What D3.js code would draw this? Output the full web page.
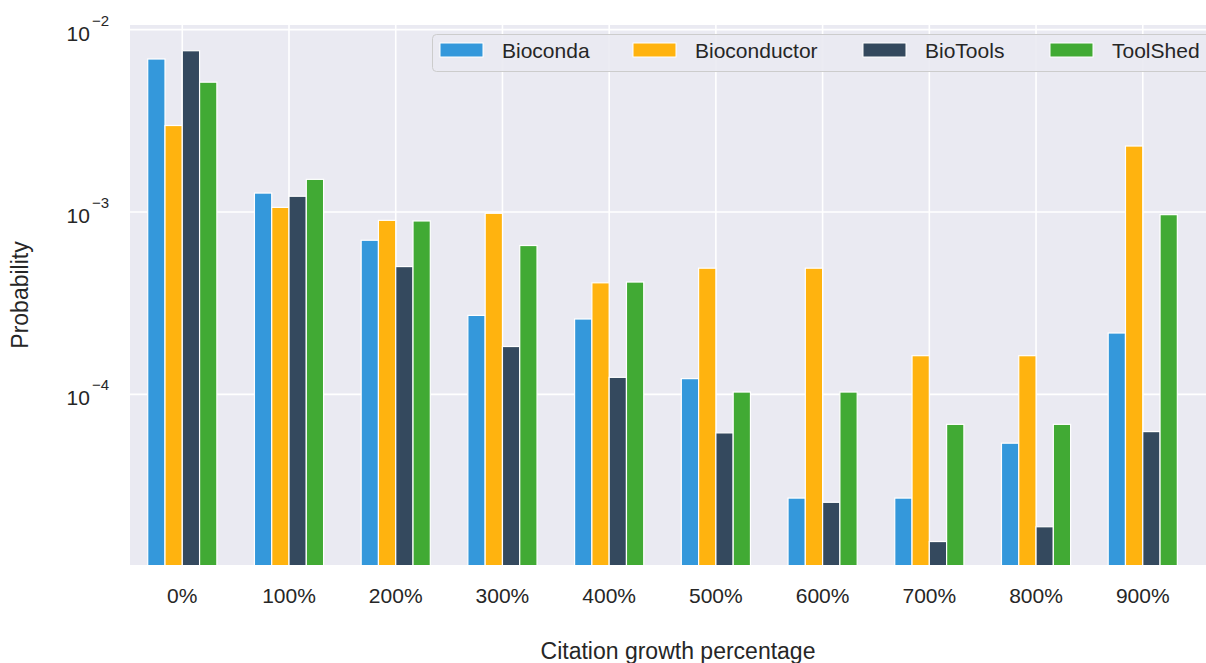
<!DOCTYPE html>
<html>
<head>
<meta charset="utf-8">
<script src="https://cdn.jsdelivr.net/npm/d3@7"></script>
<style>
  html, body { margin: 0; padding: 0; background: #ffffff; overflow: hidden; }
  svg { display: block; font-family: "Liberation Sans", Arial, Helvetica, sans-serif; }
</style>
</head>
<body>
<svg id="chart" width="1206" height="663"></svg>
<script>
// Citation growth buckets and the probability of each per registry
const categories = ["0%", "100%", "200%", "300%", "400%", "500%", "600%", "700%", "800%", "900%"];
const seriesNames = ["Bioconda", "Bioconductor", "BioTools", "ToolShed"];
const seriesColors = ["#3498db", "#ffb30f", "#34495e", "#41aa34"];

const bioconda     = [6.9e-3, 1.27e-3, 7.0e-4, 2.71e-4, 2.59e-4, 1.22e-4, 2.70e-5, 2.70e-5, 5.4e-5, 2.17e-4];
const bioconductor = [2.98e-3, 1.06e-3, 9.0e-4, 9.84e-4, 4.09e-4, 4.92e-4, 4.92e-4, 1.63e-4, 1.63e-4, 2.30e-3];
const biotools     = [7.66e-3, 1.22e-3, 5.02e-4, 1.83e-4, 1.24e-4, 6.15e-5, 2.56e-5, 1.56e-5, 1.88e-5, 6.25e-5];
const toolshed     = [5.15e-3, 1.51e-3, 8.93e-4, 6.55e-4, 4.13e-4, 1.03e-4, 1.03e-4, 6.85e-5, 6.85e-5, 9.67e-4];

const yTicks = [1e-4, 1e-3, 1e-2];
const yTickExponents = ["−4", "−3", "−2"];

const series = [bioconda, bioconductor, biotools, toolshed];

const svg = d3.select("#chart");
const plot = { left: 130, right: 1226, top: 25, bottom: 565 };

// x: category index, y: log probability
const x = d3.scaleLinear().domain([-0.49, 9.78]).range([plot.left, plot.right]);
const y = d3.scaleLog().domain([1.16e-5, 1.06e-2]).range([plot.bottom, plot.top]);
const step = x(1) - x(0);
const barW = 0.162 * step;

// axes background
svg.append("rect")
  .attr("x", plot.left).attr("y", plot.top)
  .attr("width", plot.right - plot.left).attr("height", plot.bottom - plot.top)
  .attr("fill", "#eaeaf2");

svg.append("clipPath").attr("id", "plotClip")
  .append("rect")
  .attr("x", plot.left).attr("y", plot.top)
  .attr("width", plot.right - plot.left).attr("height", plot.bottom - plot.top);

const grid = svg.append("g").attr("clip-path", "url(#plotClip)");
grid.selectAll("line.h").data(yTicks).join("line")
  .attr("x1", plot.left).attr("x2", plot.right)
  .attr("y1", d => y(d)).attr("y2", d => y(d))
  .attr("stroke", "#ffffff").attr("stroke-width", 1.6);
grid.selectAll("line.v").data(categories).join("line")
  .attr("x1", (d, i) => x(i)).attr("x2", (d, i) => x(i))
  .attr("y1", plot.top).attr("y2", plot.bottom)
  .attr("stroke", "#ffffff").attr("stroke-width", 1.6);

// bars
const bars = svg.append("g").attr("clip-path", "url(#plotClip)");
series.forEach((vals, s) => {
  bars.selectAll("rect.s" + s).data(vals).join("rect")
    .attr("x", (d, i) => x(i) + (s - 2) * barW)
    .attr("width", barW)
    .attr("y", d => y(d))
    .attr("height", d => plot.bottom + 5 - y(d))
    .attr("fill", seriesColors[s])
    .attr("stroke", "#ffffff")
    .attr("stroke-width", 1.2);
});

// y tick labels with superscript exponents
const yLab = svg.append("g").attr("fill", "#262626");
yTicks.forEach((t, i) => {
  const txt = yLab.append("text")
    .attr("x", 109)
    .attr("y", y(t) + 11)
    .attr("text-anchor", "end")
    .style("font-size", "21px");
  txt.append("tspan").text("10");
  txt.append("tspan")
    .attr("dx", 2)
    .attr("dy", -15)
    .style("font-size", "15px")
    .text(yTickExponents[i]);
});

// x tick labels
svg.append("g").selectAll("text").data(categories).join("text")
  .attr("x", (d, i) => x(i))
  .attr("y", 603)
  .attr("text-anchor", "middle")
  .attr("fill", "#262626")
  .style("font-size", "21px")
  .text(d => d);

// axis titles
svg.append("text")
  .attr("x", (plot.left + plot.right) / 2)
  .attr("y", 659)
  .attr("text-anchor", "middle")
  .attr("fill", "#262626")
  .style("font-size", "23px")
  .text("Citation growth percentage");

svg.append("text")
  .attr("transform", `translate(28, ${(plot.top + plot.bottom) / 2}) rotate(-90)`)
  .attr("text-anchor", "middle")
  .attr("fill", "#262626")
  .style("font-size", "23px")
  .text("Probability");

// legend
const legend = svg.append("g");
legend.append("rect")
  .attr("x", 432.5).attr("y", 34.5)
  .attr("width", 800).attr("height", 37)
  .attr("rx", 4)
  .attr("fill", "#eaeaf2").attr("fill-opacity", 0.9)
  .attr("stroke", "#cccccc").attr("stroke-width", 1);

const legendPatchX = [440, 633, 863, 1050];
seriesNames.forEach((name, s) => {
  legend.append("rect")
    .attr("x", legendPatchX[s]).attr("y", 43)
    .attr("width", 43).attr("height", 14)
    .attr("fill", seriesColors[s])
    .attr("stroke", "#ffffff").attr("stroke-width", 1);
  legend.append("text")
    .attr("x", legendPatchX[s] + 62)
    .attr("y", 58)
    .attr("fill", "#262626")
    .style("font-size", "21px")
    .text(name);
});
</script>
</body>
</html>
